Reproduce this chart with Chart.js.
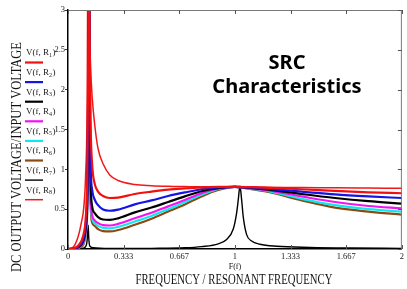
<!DOCTYPE html>
<html>
<head>
<meta charset="utf-8">
<script src="https://cdn.jsdelivr.net/npm/chart.js@4.4.1/dist/chart.umd.min.js"></script>
<style>
  html, body { margin: 0; padding: 0; background: #fff; }
  #c { display: block; }
</style>
</head>
<body>
<canvas id="c" width="407" height="289"></canvas>
<script>
// ---- data ----
const freq = [0, 0.03, 0.06, 0.08, 0.095, 0.105, 0.115, 0.12, 0.125, 0.13, 0.135, 0.145, 0.16, 0.18, 0.21, 0.25, 0.3, 0.4, 0.5, 0.6, 0.7, 0.8, 0.9, 1.0, 1.1, 1.2, 1.4, 1.6, 1.8, 2.0];

const gainR1 = [0, 0.005, 0.04, 0.1, 0.2, 0.36, 0.9, 2.0, 4.0, 2.6, 1.6, 1.05, 0.82, 0.72, 0.665, 0.64, 0.645, 0.69, 0.72, 0.745, 0.76, 0.772, 0.78, 0.78, 0.776, 0.768, 0.75, 0.73, 0.712, 0.70];
const gainR2 = [0, 0.003, 0.025, 0.07, 0.15, 0.28, 0.7, 1.6, 4.0, 2.2, 1.1, 0.74, 0.62, 0.55, 0.495, 0.48, 0.495, 0.56, 0.61, 0.665, 0.71, 0.75, 0.772, 0.78, 0.77, 0.755, 0.72, 0.685, 0.66, 0.64];
const gainR3 = [0, 0.002, 0.02, 0.055, 0.12, 0.24, 0.6, 1.4, 4.2, 1.9, 0.9, 0.53, 0.45, 0.40, 0.37, 0.365, 0.385, 0.46, 0.52, 0.59, 0.66, 0.725, 0.765, 0.78, 0.765, 0.745, 0.69, 0.64, 0.60, 0.57];
const gainR4 = [0, 0.002, 0.015, 0.045, 0.1, 0.21, 0.55, 1.3, 4.3, 1.7, 0.7, 0.42, 0.36, 0.325, 0.30, 0.295, 0.315, 0.385, 0.455, 0.535, 0.615, 0.70, 0.76, 0.78, 0.76, 0.735, 0.66, 0.59, 0.54, 0.51];
const gainR5 = [0, 0.001, 0.012, 0.04, 0.09, 0.2, 0.5, 1.2, 4.4, 1.6, 0.65, 0.38, 0.325, 0.29, 0.265, 0.26, 0.278, 0.345, 0.415, 0.50, 0.59, 0.68, 0.755, 0.78, 0.755, 0.725, 0.63, 0.55, 0.50, 0.47];
const gainR6 = [0, 0.001, 0.01, 0.03, 0.07, 0.18, 0.45, 1.1, 4.5, 1.5, 0.6, 0.33, 0.29, 0.25, 0.225, 0.22, 0.238, 0.305, 0.38, 0.47, 0.56, 0.66, 0.74, 0.78, 0.75, 0.715, 0.61, 0.52, 0.47, 0.43];
const gainR8 = [0, 0.02, 0.15, 0.33, 0.53, 0.9, 1.9, 4.0, 3.4, 2.7, 2.3, 1.9, 1.56, 1.26, 1.07, 0.93, 0.86, 0.81, 0.795, 0.787, 0.783, 0.78, 0.78, 0.78, 0.777, 0.775, 0.772, 0.768, 0.765, 0.762];

// R7 is the sharp one, sampled on its own frequency list
const freqR7 = [0, 0.05, 0.09, 0.105, 0.113, 0.118, 0.121, 0.124, 0.13, 0.15, 0.25, 0.5, 0.7, 0.8, 0.9, 0.95, 0.99, 1.01, 1.02, 1.03, 1.04, 1.05, 1.07, 1.1, 1.15, 1.25, 1.45, 1.7, 2.0];
const gainR7 = [0, 0.002, 0.01, 0.03, 0.08, 0.2, 0.3, 0.15, 0.04, 0.015, 0.006, 0.008, 0.015, 0.03, 0.065, 0.12, 0.25, 0.45, 0.62, 0.79, 0.62, 0.4, 0.18, 0.1, 0.06, 0.035, 0.02, 0.012, 0.008];

const seriesNames = ["1", "2", "3", "4", "5", "6", "7", "8"];
const xTicks = [0, 0.333, 0.667, 1, 1.333, 1.667, 2];
const xTickLabels = ["0", "0.333", "0.667", "1", "1.333", "1.667", "2"];
const yTicks = [0, 0.5, 1, 1.5, 2, 2.5, 3];
const yTickLabels = ["0", "0.5", "1", "1.5", "2", "2.5", "3"];

// ---- helpers ----
function pts(xs, ys) {
    const out = [];
    for (let i = 0; i < xs.length; i++) out.push({ x: xs[i], y: ys[i] });
    return out;
}

function line(name, xs, ys, color, width) {
    return {
        label: name,
        data: pts(xs, ys),
        borderColor: color,
        borderWidth: width,
        pointRadius: 0,
        fill: false,
        cubicInterpolationMode: "monotone",
        borderJoinStyle: "round"
    };
}

// squeeze text horizontally to a given width (the original uses a narrow serif face)
function fitText(ctx, text, cx, cy, width, font, rot) {
    ctx.save();
    ctx.font = font;
    const w = ctx.measureText(text).width;
    ctx.translate(cx, cy);
    if (rot) ctx.rotate(rot);
    ctx.scale(width / w, 1);
    ctx.textAlign = "center";
    ctx.textBaseline = "middle";
    ctx.fillText(text, 0, 0);
    ctx.restore();
}

// ---- extra drawing: frame, inner ticks, titles, legend ----
const overlay = {
    id: "overlay",
    afterDraw(chart) {
        const ctx = chart.ctx;
        const a = chart.chartArea;
        const xs = chart.scales.x, ys = chart.scales.y;

        ctx.save();
        // frame top / right
        ctx.strokeStyle = "#7a7a7a";
        ctx.lineWidth = 1;
        ctx.beginPath();
        ctx.moveTo(a.left, a.top + 0.5);
        ctx.lineTo(a.right - 0.5, a.top + 0.5);
        ctx.lineTo(a.right - 0.5, a.bottom);
        ctx.stroke();

        // ticks inside the frame
        ctx.strokeStyle = "#555";
        ctx.beginPath();
        for (const v of xTicks) {
            const px = Math.round(xs.getPixelForValue(v)) + 0.5;
            ctx.moveTo(px, a.bottom); ctx.lineTo(px, a.bottom - 4);
            ctx.moveTo(px, a.top); ctx.lineTo(px, a.top + 4);
        }
        for (const v of yTicks) {
            const py = Math.round(ys.getPixelForValue(v)) + 0.5;
            ctx.moveTo(a.right, py); ctx.lineTo(a.right - 4, py);
        }
        ctx.stroke();

        ctx.fillStyle = "#111";
        // axis titles
        fitText(ctx, "DC OUTPUT VOLTAGE/INPUT VOLTAGE", 17, 157, 230, "15px 'Liberation Serif'", -Math.PI / 2);
        fitText(ctx, "FREQUENCY / RESONANT FREQUENCY", 234, 280, 197, "15px 'Liberation Serif'");
        ctx.font = "8px 'Liberation Serif'";
        ctx.textAlign = "center";
        ctx.textBaseline = "middle";
        ctx.fillText("F(f)", xs.getPixelForValue(1), 267);

        // big title
        ctx.fillStyle = "#000";
        ctx.font = "bold 20px 'Noto Sans'";
        const cw = ctx.measureText("Characteristics").width;
        const fs = 20 * 149 / cw;
        ctx.font = "bold " + fs.toFixed(1) + "px 'Noto Sans'";
        ctx.fillText("SRC", 287, 63);
        ctx.fillText("Characteristics", 287, 87);

        // legend (Mathcad style: label, then a line sample below it)
        const dsets = chart.data.datasets;
        for (let i = 0; i < dsets.length; i++) {
            const ds = dsets[i];
            const ty = 53 + i * 19.6;
            const ly = ty + 9.5;
            ctx.fillStyle = "#222";
            ctx.textAlign = "left";
            ctx.textBaseline = "middle";
            ctx.font = "9px 'Liberation Serif'";
            let x = 26;
            ctx.fillText("V(f, R", x, ty);
            x += ctx.measureText("V(f, R").width;
            ctx.font = "6px 'Liberation Serif'";
            ctx.fillText(ds.label, x, ty + 2.5);
            x += ctx.measureText(ds.label).width;
            ctx.font = "9px 'Liberation Serif'";
            ctx.fillText(")", x + 0.5, ty);

            ctx.strokeStyle = ds.borderColor;
            ctx.lineWidth = ds.borderWidth;
            ctx.beginPath();
            ctx.moveTo(25, ly);
            ctx.lineTo(43, ly);
            ctx.stroke();
        }
        ctx.restore();
    }
};

const datasets = [
    line(seriesNames[0], freq, gainR1, "#f01010", 2.2),
    line(seriesNames[1], freq, gainR2, "#1414e6", 2.2),
    line(seriesNames[2], freq, gainR3, "#000000", 2.2),
    line(seriesNames[3], freq, gainR4, "#f014f0", 2.2),
    line(seriesNames[4], freq, gainR5, "#10e8f0", 2.2),
    line(seriesNames[5], freq, gainR6, "#8a4a12", 2.2),
    line(seriesNames[6], freqR7, gainR7, "#000000", 1.4),
    line(seriesNames[7], freq, gainR8, "#f01818", 1.5)
];

const tickFont = { family: "'Liberation Serif'", size: 8.5 };

new Chart(document.getElementById("c"), {
    type: "line",
    data: { datasets },
    options: {
        responsive: false,
        animation: false,
        devicePixelRatio: 1,
        layout: { padding: { top: 10, right: 2, left: 0, bottom: 0 } },
        plugins: { legend: { display: false }, tooltip: { enabled: false } },
        scales: {
            x: {
                type: "linear",
                min: 0,
                max: 2,
                afterBuildTicks: (s) => { s.ticks = xTicks.map(v => ({ value: v })); },
                afterFit: (s) => { s.height = 40; },
                ticks: {
                    font: tickFont,
                    color: "#222",
                    padding: 3,
                    maxRotation: 0,
                    callback: (v, i) => xTickLabels[i]
                },
                grid: { drawOnChartArea: false, drawTicks: false },
                border: { color: "#000", width: 1.5 }
            },
            y: {
                min: 0,
                max: 3,
                afterBuildTicks: (s) => { s.ticks = yTicks.map(v => ({ value: v })); },
                afterFit: (s) => { s.width = 68; },
                ticks: {
                    font: tickFont,
                    color: "#222",
                    padding: 0,
                    callback: (v, i) => yTickLabels[i]
                },
                grid: { drawOnChartArea: false, tickLength: 3, color: "#333" },
                border: { color: "#000", width: 1.5 }
            }
        }
    },
    plugins: [overlay]
});
</script>
</body>
</html>
